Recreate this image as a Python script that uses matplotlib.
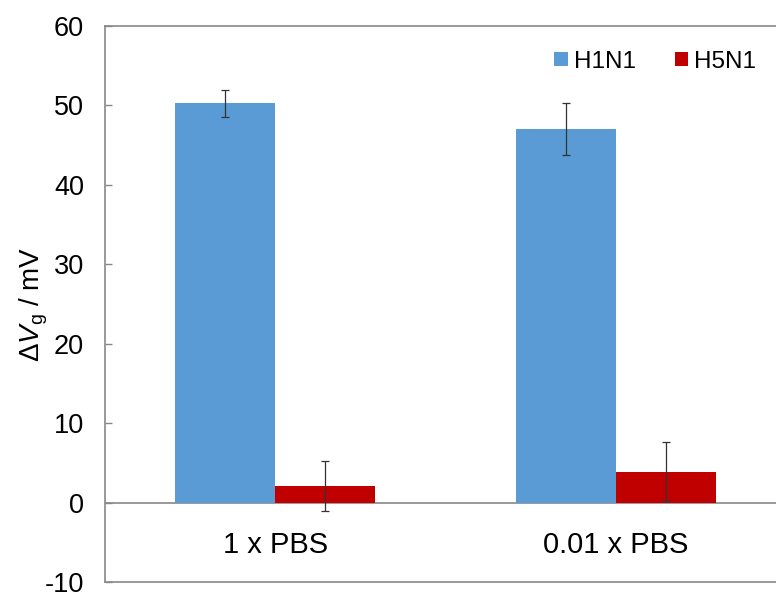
import numpy as np
import matplotlib
matplotlib.use("Agg")
import matplotlib.pyplot as plt

plt.rcParams['font.family'] = ['Liberation Sans', 'DejaVu Sans']
plt.rcParams['axes.unicode_minus'] = False
plt.rcParams['mathtext.fontset'] = 'custom'
plt.rcParams['mathtext.rm'] = 'Liberation Sans'
plt.rcParams['mathtext.it'] = 'Liberation Sans:italic'

# data
categories = ["1 x PBS", "0.01 x PBS"]
h1n1 = [50.3, 47.0]
h1n1_err = [1.7, 3.3]
h5n1 = [2.1, 3.9]
h5n1_err = [3.1, 3.7]

fig = plt.figure(figsize=(7.76, 5.95), dpi=100)
ax = fig.add_axes([0.1353, 0.0218, 0.8777, 0.9345])

x = np.arange(len(categories))
w = 0.293
ax.bar(x - w / 2, h1n1, w, color="#5B9BD5", label="H1N1")
ax.bar(x + w / 2, h5n1, w, color="#C00000", label="H5N1")
ax.errorbar(x - w / 2, h1n1, yerr=h1n1_err, fmt="none", ecolor="#333333",
            elinewidth=0.9, capsize=3, capthick=0.9)
ax.errorbar(x + w / 2, h5n1, yerr=h5n1_err, fmt="none", ecolor="#333333",
            elinewidth=0.9, capsize=3, capthick=0.9)

ax.axhline(0, color="#888888", lw=1.2, zorder=0.5)

ax.set_xlim(-0.5, 1.5)
ax.set_ylim(-10, 60)
ax.set_yticks(np.arange(-10, 61, 10))
ax.tick_params(axis="y", direction="in", length=5, width=1, color="#888888",
               labelsize=19.5, pad=15)
ax.set_xticks([])
for spine in ax.spines.values():
    spine.set_color("#888888")
    spine.set_linewidth(1.2)

# category labels sit below the zero line
for i, c in enumerate(categories):
    ax.text(i, -5.4, c, ha="center", va="center", fontsize=21)

ax.set_ylabel(r"$\Delta V_{\mathrm{g}}$ / mV", fontsize=20, labelpad=-4)

ax.legend(loc="upper right", bbox_to_anchor=(0.988, 0.995), ncol=2,
          frameon=False, fontsize=17.5, handlelength=0.55, handleheight=0.55,
          handletextpad=0.25, columnspacing=1.6)

fig.savefig("out.png", dpi=100)
